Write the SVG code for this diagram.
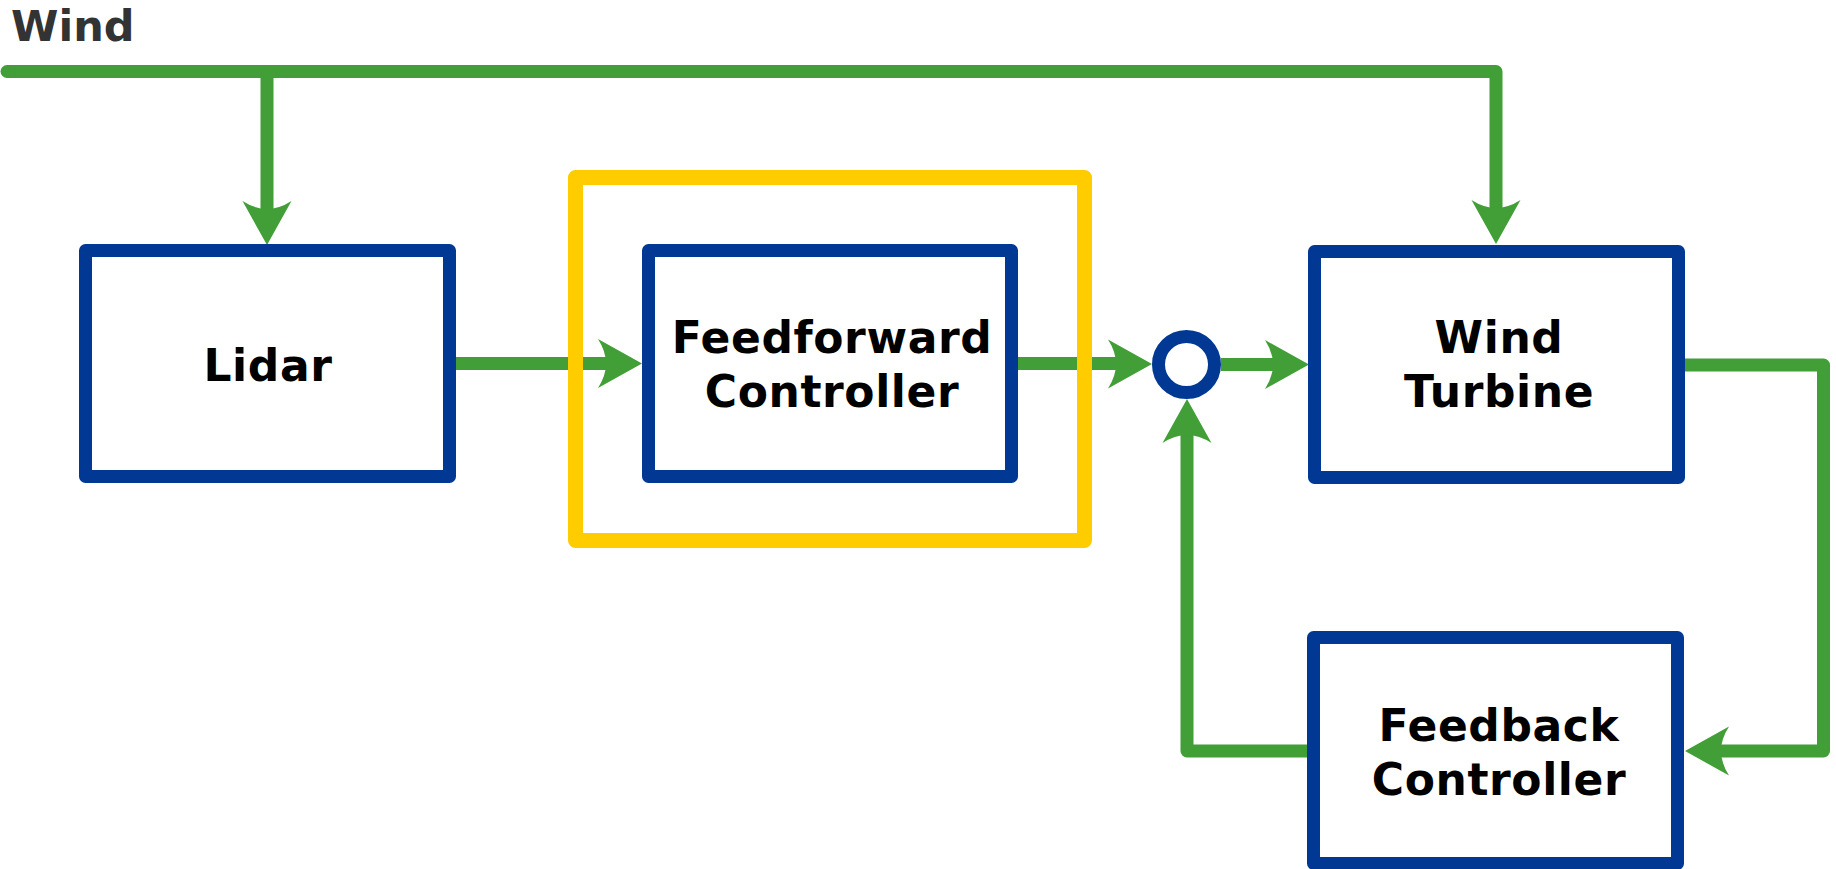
<svg xmlns="http://www.w3.org/2000/svg" width="1836" height="869" viewBox="0 0 1836 869">
<defs>
<style>
.box{fill:#fff;stroke:#003893;stroke-width:13;stroke-linejoin:round}
.hl{fill:none;stroke:#FFCC00;stroke-width:15;stroke-linejoin:round}
.wire{fill:none;stroke:#429E37;stroke-width:13;stroke-linejoin:round;stroke-linecap:butt}
.head{fill:#429E37}
.lbl{font-family:"DejaVu Sans","Liberation Sans",sans-serif;font-weight:bold;font-size:44px;fill:#000;text-anchor:middle;letter-spacing:0.6px}
.title{font-family:"DejaVu Sans","Liberation Sans",sans-serif;font-weight:bold;font-size:43px;fill:#333}
</style>
<path id="ah" d="M0,0 L-44,-24.5 Q-36,-12 -36,0 Q-36,12 -44,24.5 Z"/>
</defs>
<rect width="1836" height="869" fill="#fff"/>
<text class="title" x="11" y="41">Wind</text>
<g id="connectors">
<path class="wire" d="M7,71.5 H1496 V214"/>
<circle cx="7" cy="71.5" r="6.5" fill="#429E37"/>
<path class="wire" d="M267,71.5 V214"/>
<path class="wire" d="M456,363.5 H610"/>
<path class="wire" d="M1018,363.5 H1120"/>
<path class="wire" d="M1221,364.5 H1276"/>
<path class="wire" d="M1685,365 H1823.5 V751 H1718"/>
<path class="wire" d="M1307,751 H1187 V432"/>
<use href="#ah" class="head" transform="translate(267,245) rotate(90)"/>
<use href="#ah" class="head" transform="translate(1496,244) rotate(90)"/>
<use href="#ah" class="head" transform="translate(642,363.5)"/>
<use href="#ah" class="head" transform="translate(1152,364)"/>
<use href="#ah" class="head" transform="translate(1309,364.5)"/>
<use href="#ah" class="head" transform="translate(1685,751) rotate(180)"/>
<use href="#ah" class="head" transform="translate(1187,399) rotate(-90)"/>
</g>
<g id="highlight">
<rect class="hl" x="575.5" y="177.5" width="509" height="363"/>
</g>
<g id="lidar">
<rect class="box" x="85.5" y="250.5" width="364" height="226"/>
<text class="lbl" x="268" y="381">Lidar</text>
</g>
<g id="feedforward">
<rect class="box" x="648.5" y="250.5" width="363" height="226"/>
<text class="lbl" x="832" y="353">Feedforward</text>
<text class="lbl" x="832" y="407">Controller</text>
</g>
<g id="sum">
<circle cx="1186.5" cy="364.5" r="28" fill="#fff" stroke="#003893" stroke-width="13"/>
</g>
<g id="turbine">
<rect class="box" x="1314.5" y="251.5" width="364" height="226"/>
<text class="lbl" x="1499" y="353">Wind</text>
<text class="lbl" x="1499" y="407">Turbine</text>
</g>
<g id="feedback">
<rect class="box" x="1313.5" y="637.5" width="364" height="226"/>
<text class="lbl" x="1499" y="741">Feedback</text>
<text class="lbl" x="1499" y="795">Controller</text>
</g>
</svg>
